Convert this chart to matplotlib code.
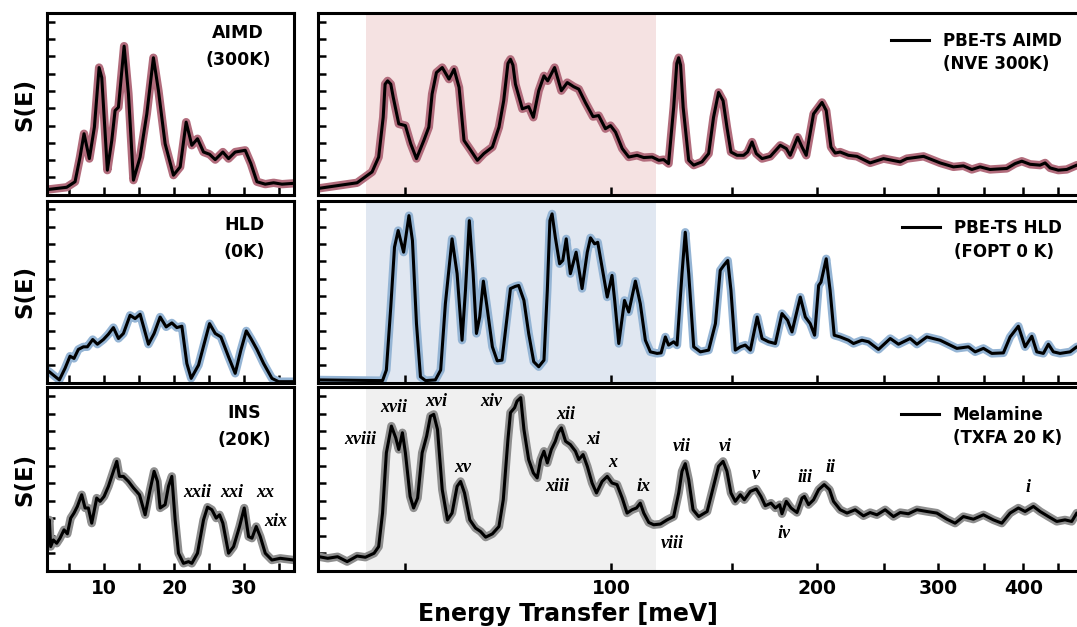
import matplotlib
matplotlib.use("Agg")
import matplotlib.pyplot as plt
from matplotlib.lines import Line2D
from matplotlib.ticker import NullLocator

# ---- low energy window (linear axis, meV) ----
aimd_lo_E = [1.9, 2.19, 4.67, 5.86, 6.57, 7.14, 7.90, 8.62, 9.29, 9.67, 10.47, 11.10, 11.57, 12.05,
             12.86, 13.48, 14.19, 15.14, 16.10, 17.04, 17.76, 18.71, 19.90, 20.86, 21.71, 22.52,
             23.33, 24.19, 25.05, 25.86, 26.95, 27.76, 28.71, 30.14, 30.95, 31.81, 33.00, 34.19,
             35.38, 37.1]
aimd_lo_S = [0.31, 0.31, 0.43, 0.75, 2.18, 3.53, 2.09, 3.91, 7.36, 6.78, 1.42, 3.14, 4.87, 5.06,
             8.60, 5.83, 0.84, 2.18, 4.68, 7.93, 6.02, 2.95, 1.13, 1.61, 4.20, 2.86,
             3.24, 2.47, 2.34, 2.03, 2.47, 2.09, 2.47, 2.57, 1.80, 0.75, 0.61, 0.69,
             0.61, 0.66]

hld_lo_E = [1.9, 2.19, 2.76, 3.62, 4.43, 5.14, 5.71, 6.33, 7.05, 7.62, 8.38, 9.05, 9.90, 10.62,
            11.33, 12.05, 12.76, 13.71, 14.43, 15.14, 16.33, 17.14, 18.00, 18.86, 19.67, 20.38,
            21.10, 21.81, 22.43, 23.48, 24.29, 25.05, 25.86, 26.67, 27.76, 28.71, 29.52, 30.29,
            30.95, 31.81, 32.76, 33.95, 34.90, 37.1]
hld_lo_S = [0.70, 0.63, 0.44, 0.16, 0.83, 1.53, 1.40, 1.92, 2.07, 2.07, 2.49, 2.22, 2.49, 2.80,
            3.18, 2.55, 2.84, 3.89, 3.70, 3.95, 2.22, 2.84, 3.79, 3.22, 3.45, 3.18,
            3.26, 1.11, 0.25, 1.02, 2.26, 3.41, 2.84, 2.64, 1.49, 0.54, 1.88, 2.99,
            2.55, 1.92, 1.11, 0.25, 0.06, 0.06]

ins_lo_E = [1.9, 2.19, 2.38, 2.76, 3.24, 3.71, 4.29, 4.76, 5.24, 5.71, 6.19, 6.81, 7.29, 7.76,
            8.24, 8.95, 9.43, 10.00, 10.62, 11.33, 11.81, 12.19, 12.76, 13.48, 14.19, 15.05,
            15.86, 16.57, 17.14, 17.62, 18.00, 18.71, 19.19, 19.67, 20.14, 20.62, 21.33, 22.05,
            22.52, 23.33, 24.19, 24.76, 25.38, 26.00, 26.48, 26.95, 27.76, 28.48, 29.33, 30.00,
            30.62, 31.10, 31.71, 32.29, 33.00, 33.95, 35.14, 36.10, 37.1]
ins_lo_S = [2.20, 2.91, 1.38, 1.76, 1.57, 1.86, 2.34, 2.11, 3.01, 3.30, 3.68, 4.35, 3.59, 3.59,
            2.72, 4.16, 3.97, 4.25, 4.83, 5.69, 6.26, 5.40, 5.40, 5.11, 4.74, 4.35,
            3.20, 4.64, 5.69, 5.11, 3.59, 3.78, 4.83, 5.40, 2.91, 1.00, 0.42, 0.52,
            0.42, 1.00, 2.91, 3.64, 3.49, 3.01, 3.20, 2.72, 1.00, 1.38, 2.53, 3.59,
            1.95, 1.86, 2.53, 1.95, 1.00, 0.61, 0.71, 0.66, 0.61]

# ---- full window (log axis, meV) ----
aimd_hi_E = [37.4, 42.5, 44.7, 45.7, 46.4, 46.7, 47.1, 47.6, 48.0, 48.9, 50.0, 50.9, 51.9, 53.2,
             54.1, 54.7, 55.5, 56.6, 57.9, 58.9, 59.9, 60.9, 62.3, 63.7, 65.1, 67.0, 68.5, 69.6,
             70.6, 71.2, 71.8, 72.4, 74.1, 75.7, 76.9, 78.3, 79.7, 80.7, 82.6, 84.5, 86.2, 88.1,
             89.6, 91.6, 94.0, 95.8, 98.0, 99.7, 101.4, 103.7, 106.0, 109.0, 111.5, 114.7, 117.3,
             119.2, 121.2, 123.3, 124.6, 125.4, 126.2, 127.3, 129.7, 131.9, 135.6, 138.7, 141.0,
             143.4, 145.6, 147.5, 149.5, 152.6, 156.0, 158.1, 160.5, 162.8, 166.0, 170.7, 176.5,
             180.1, 182.5, 187.1, 189.9, 192.6, 197.4, 203.1, 206.0, 209.3, 212.3, 215.9, 222.0,
             228.4, 238.8, 249.8, 264.2, 270.2, 285.8, 302.2, 316.0, 326.8, 336.2, 345.7, 357.5,
             378.2, 388.9, 397.8, 409.0, 423.0, 430.2, 437.5, 449.8, 462.7, 478.6, 490.0]
aimd_hi_S = [0.37, 0.69, 1.32, 2.18, 4.48, 6.40, 6.59, 6.40, 5.63, 4.10, 4.00, 2.95, 2.09, 3.14,
             3.91, 5.83, 7.07, 7.36, 6.69, 7.26, 6.21, 3.14, 2.57, 1.99, 2.38, 2.76, 3.91, 5.44,
             7.60, 7.84, 7.50, 6.40, 4.97, 5.10, 4.48, 6.02, 6.88, 6.59, 7.36, 6.02, 6.49, 6.25,
             6.11, 5.34, 4.52, 4.58, 3.82, 4.00, 3.62, 2.67, 2.18, 2.28, 2.15, 2.18, 1.99,
             2.03, 1.80, 5.06, 7.60, 7.93, 7.50, 5.06, 1.99, 1.71, 1.90, 2.38, 4.48,
             5.92, 5.44, 3.91, 2.47, 2.28, 2.28, 2.47, 3.05, 2.38, 2.09, 2.22, 2.86,
             2.67, 2.28, 3.33, 2.76, 2.28, 4.68, 5.34, 4.87, 2.76, 2.41, 2.47, 2.28,
             2.22, 1.84, 2.09, 1.90, 2.09, 2.22, 1.84, 1.61, 1.67, 1.46, 1.61, 1.46,
             1.52, 1.80, 1.94, 1.76, 1.71, 1.84, 1.55, 1.42, 1.46, 1.71, 1.75]

hld_hi_E = [37.4, 46.3, 46.9, 47.6, 48.2, 48.8, 49.7, 50.6, 51.2, 51.9, 52.6, 53.5, 55.3, 56.3,
            57.2, 58.5, 59.5, 60.5, 61.2, 62.0, 62.8, 63.5, 64.2, 65.0, 65.8, 67.0, 68.1, 69.2,
            70.4, 71.2, 72.4, 73.2, 74.5, 75.7, 77.0, 78.3, 79.7, 80.6, 81.3, 81.9, 82.8, 84.0,
            84.9, 85.9, 87.1, 88.8, 90.6, 92.2, 93.2, 94.5, 95.5, 96.9, 98.6, 100.2, 101.1, 102.5,
            104.5, 106.0, 108.4, 110.2, 112.1, 114.0, 116.6, 118.2, 119.9, 121.2, 123.3, 124.7,
            126.8, 128.2, 129.7, 131.9, 134.9, 138.7, 141.9, 144.2, 145.9, 147.9, 149.5, 151.7,
            154.3, 156.9, 159.6, 163.3, 166.0, 169.7, 173.6, 177.5, 180.9, 183.6, 188.8, 192.0,
            195.2, 198.1, 200.8, 202.4, 206.0, 208.7, 211.6, 215.9, 222.0, 225.8, 232.3, 237.5,
            245.6, 255.5, 262.7, 273.2, 279.5, 289.0, 302.2, 319.7, 332.4, 340.0, 349.6, 359.6,
            373.9, 382.4, 393.2, 402.2, 411.4, 418.3, 427.7, 435.0, 442.3, 452.4, 468.0, 478.6,
            490.0]
hld_hi_S = [0.16, 0.12, 0.73, 4.37, 7.82, 8.78, 7.53, 9.64, 8.20, 3.41, 0.34, 0.12, 0.16, 0.73,
            4.56, 8.30, 6.29, 2.45, 5.33, 9.35, 6.29, 2.84, 3.79, 5.86, 4.37, 2.07, 1.26, 1.30,
            3.79, 5.43, 5.56, 5.61, 4.75, 2.84, 1.21, 0.92, 1.30, 5.33, 9.35, 9.74, 8.39, 6.86,
            7.05, 8.30, 6.29, 7.53, 5.43, 7.53, 8.36, 8.01, 8.10, 6.67, 4.94, 6.19, 4.75, 2.26,
            4.75, 4.08, 5.86, 4.56, 2.45, 1.78, 1.69, 1.72, 2.64, 2.17, 2.36, 2.17,
            6.29, 8.68, 6.29, 2.07, 1.78, 1.88, 3.41, 6.48, 6.76, 7.05, 5.33, 1.88,
            2.07, 2.17, 1.88, 3.79, 2.55, 2.36, 2.26, 3.99, 3.60, 2.93, 4.94, 3.79,
            3.41, 2.74, 5.61, 5.80, 7.15, 5.33, 2.74, 2.64, 2.45, 2.26, 2.45, 2.36,
            1.92, 2.55, 2.22, 2.55, 2.22, 2.64, 2.45, 1.98, 2.07, 1.78, 1.98, 1.69,
            1.72, 2.64, 3.26, 2.07, 2.68, 1.78, 1.69, 2.22, 1.78, 1.69, 1.78, 2.07,
            2.10]

ins_hi_E = [37.4, 38.5, 39.8, 41.1, 42.5, 43.7, 45.0, 45.7, 46.3, 46.9, 47.7, 48.4, 48.9, 49.5,
            50.0, 50.8, 51.4, 52.1, 52.9, 53.7, 54.4, 55.0, 55.7, 56.6, 57.6, 58.5, 59.5, 60.2,
            61.0, 62.1, 63.3, 64.4, 65.5, 67.0, 68.5, 69.5, 70.6, 71.2, 72.2, 72.8, 73.7, 74.5,
            75.7, 76.9, 77.9, 78.8, 79.7, 80.6, 81.7, 82.8, 83.6, 84.5, 85.7, 87.1, 88.6, 89.6,
            90.9, 92.2, 93.7, 95.1, 96.9, 98.6, 100.2, 101.9, 103.7, 105.4, 107.2, 108.8, 110.2,
            111.5, 113.4, 115.3, 117.9, 120.6, 123.3, 125.4, 126.8, 128.2, 129.7, 131.6, 134.1,
            138.0, 141.0, 143.4, 145.6, 147.5, 149.5, 151.7, 154.3, 156.4, 159.6, 162.8, 165.4,
            167.8, 171.1, 173.6, 176.1, 177.5, 180.1, 183.0, 186.7, 189.9, 191.4, 194.1, 197.4,
            200.8, 204.6, 208.3, 211.1, 215.9, 220.9, 227.1, 233.5, 238.8, 244.3, 251.2, 258.3,
            264.2, 271.6, 279.5, 289.0, 298.9, 309.1, 317.8, 326.8, 338.0, 349.6, 361.5, 371.9,
            382.4, 393.2, 402.2, 413.6, 423.0, 435.0, 447.4, 460.0, 470.5, 478.6, 490.0]
ins_hi_S = [0.80, 0.71, 0.80, 0.52, 0.84, 0.77, 1.00, 1.38, 3.30, 6.75, 8.28, 7.61, 6.94, 7.90,
            6.75, 4.25, 3.59, 4.16, 6.75, 7.70, 8.85, 8.95, 8.09, 4.64, 2.91, 3.30, 4.83, 5.11,
            4.45, 2.91, 2.44, 2.24, 1.92, 2.11, 2.53, 4.06, 7.51, 9.05, 9.33, 9.71, 9.91, 8.09,
            6.36, 5.60, 5.31, 6.36, 6.84, 6.17, 6.94, 7.41, 7.90, 8.18, 7.41, 7.22, 6.84, 6.36,
            6.65, 5.98, 5.02, 4.45, 5.11, 5.40, 5.02, 4.93, 4.16, 3.30, 3.49, 3.59, 3.87,
            3.30, 2.76, 2.63, 2.67, 2.91, 3.10, 4.45, 5.69, 6.13, 5.21, 3.49, 3.10,
            3.39, 4.83, 5.98, 6.26, 5.69, 4.45, 3.97, 4.35, 4.06, 4.54, 4.68, 4.25,
            3.72, 3.87, 3.59, 3.78, 3.26, 3.97, 3.59, 3.33, 4.16, 4.25, 3.78, 4.06,
            4.64, 4.93, 4.64, 3.97, 3.49, 3.30, 3.49, 3.14, 3.33, 3.20, 3.49, 3.10,
            3.33, 3.26, 3.49, 3.39, 3.30, 2.95, 2.72, 3.10, 2.95, 3.20, 2.91, 2.72,
            3.30, 3.59, 3.39, 3.68, 3.39, 3.10, 2.82, 2.91, 2.82, 3.30, 3.30]

# peak labels (roman numerals)
ins_hi_tags = ["xviii", "xvii", "xvi", "xv", "xiv", "xiii", "xii", "xi", "x", "ix", "viii",
               "vii", "vi", "v", "iv", "iii", "ii", "i"]
ins_hi_tag_E = [42.9, 48.1, 55.5, 60.7, 66.8, 83.3, 85.7, 94.2, 100.6, 111.5, 122.6,
                126.8, 146.7, 162.6, 178.5, 192.0, 209.3, 406.6]
ins_hi_tag_S = [7.51, 9.33, 9.71, 5.89, 9.71, 4.83, 8.95, 7.51, 6.17, 4.83, 1.57,
                7.13, 7.13, 5.50, 2.15, 5.31, 5.89, 4.74]
ins_lo_tags = ["xxii", "xxi", "xx", "xix"]
ins_lo_tag_E = [23.33, 28.24, 33.0, 34.43]
ins_lo_tag_S = [4.45, 4.45, 4.45, 2.82]

panel_names = ["AIMD\n(300K)", "HLD\n(0K)", "INS\n(20K)"]
legend_names = [("PBE-TS AIMD", "(NVE 300K)"), ("PBE-TS HLD", "(FOPT 0 K)"),
                ("Melamine", "(TXFA 20 K)")]
halo_colors = ["#b26c7c", "#94b4d4", "#8e8e8e"]
shade_colors = ["#f5e2e2", "#e0e7f1", "#f0f0f0"]
shade_range = (43.8, 116.3)

lo_data = [(aimd_lo_E, aimd_lo_S), (hld_lo_E, hld_lo_S), (ins_lo_E, ins_lo_S)]
hi_data = [(aimd_hi_E, aimd_hi_S), (hld_hi_E, hld_hi_S), (ins_hi_E, ins_hi_S)]

W, H = 1077, 627
fig = plt.figure(figsize=(W / 100, H / 100), dpi=100)

row_px = [(13.3, 194.7), (200.7, 382.7), (387.3, 570.7)]
name_pos = [(0.773, 0.815), (0.80, 0.79), (0.80, 0.785)]
lo_x0, lo_x1 = 47.3, 294.0
hi_x0, hi_x1 = 317.5, 1080.0


def style(ax, bottom_labels):
    for s in ax.spines.values():
        s.set_linewidth(2.2)
    ax.set_ylim(0, 10.5)
    ax.set_yticks(range(1, 11))
    ax.tick_params(axis="both", direction="in", length=6, width=1.8, pad=6,
                   labelleft=False, labelbottom=bottom_labels, top=False, right=False)


def curve(ax, E, S, halo):
    ax.plot(E, S, color=halo, lw=6, solid_joinstyle="round", solid_capstyle="round", zorder=2)
    ln, = ax.plot(E, S, color="black", lw=2.2, solid_joinstyle="round", zorder=3)
    return ln


for i in range(3):
    top, bot = row_px[i]
    rect_lo = [lo_x0 / W, 1 - bot / H, (lo_x1 - lo_x0) / W, (bot - top) / H]
    rect_hi = [hi_x0 / W, 1 - bot / H, (hi_x1 - hi_x0) / W, (bot - top) / H]
    ax_lo = fig.add_axes(rect_lo)
    ax_hi = fig.add_axes(rect_hi)

    # low energy panel
    E, S = lo_data[i]
    curve(ax_lo, E, S, halo_colors[i])
    ax_lo.set_xlim(1.9, 37.1)
    style(ax_lo, i == 2)
    ax_lo.set_xticks(range(5, 40, 5))
    ax_lo.set_xticklabels(["", "10", "", "20", "", "30", ""], fontsize=13.5, fontweight="bold")
    ax_lo.set_ylabel("S(E)", fontsize=16.5, fontweight="bold", labelpad=8)
    ax_lo.text(*name_pos[i], panel_names[i], transform=ax_lo.transAxes, ha="center",
               va="center", fontsize=12.5, fontweight="bold", linespacing=1.65)

    # full range panel
    E, S = hi_data[i]
    ax_hi.axvspan(*shade_range, color=shade_colors[i], lw=0, zorder=0)
    line = curve(ax_hi, E, S, halo_colors[i])
    ax_hi.set_xscale("log")
    ax_hi.set_xlim(37.2, 100 * 10 ** ((hi_x1 - 611) / 685))
    style(ax_hi, i == 2)
    ax_hi.xaxis.set_minor_locator(NullLocator())
    ax_hi.set_xticks(range(50, 500, 50))
    ax_hi.set_xticklabels(["", "100", "", "200", "", "300", "", "400", ""],
                          fontsize=13.5, fontweight="bold")
    blank = Line2D([], [], color="none")
    ax_hi.legend([line, blank], list(legend_names[i]), loc="upper right", frameon=False,
                 prop={"weight": "bold", "size": 12}, handlelength=2.3,
                 handletextpad=0.8, borderaxespad=0.7, labelspacing=0.35)

    if i == 2:
        for tag, x, y in zip(ins_hi_tags, ins_hi_tag_E, ins_hi_tag_S):
            ax_hi.text(x, y, tag, ha="center", va="center", fontsize=13,
                       family="Liberation Serif", style="italic", fontweight="bold", zorder=4)
        for tag, x, y in zip(ins_lo_tags, ins_lo_tag_E, ins_lo_tag_S):
            ax_lo.text(x, y, tag, ha="center", va="center", fontsize=13,
                       family="Liberation Serif", style="italic", fontweight="bold", zorder=4)

fig.text(567.5 / W, 1 - 614 / H, "Energy Transfer [meV]", ha="center", va="center",
         fontsize=17, fontweight="bold")

fig.savefig("out.png", dpi=100)
